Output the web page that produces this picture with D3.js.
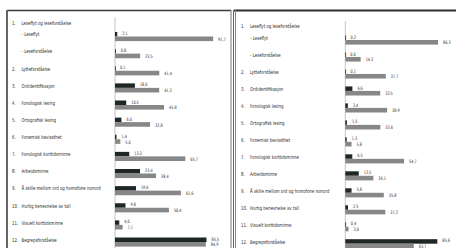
<!DOCTYPE html>
<html>
<head>
<meta charset="utf-8">
<script src="https://cdn.jsdelivr.net/npm/d3@7"></script>
<style>
  html, body { margin: 0; padding: 0; background: #fff; }
  svg { display: block; }
  text { font-family: "Liberation Sans Narrow", "DejaVu Sans Condensed", "Liberation Sans", sans-serif; fill: #2b2b2b; }
</style>
</head>
<body>
<div id="chart"></div>
<script>
// row labels (first entry is the heading of group 1, it has no bars)
const rowNumbers = ['1.', '', '', '2.', '3.', '4.', '5.', '6.', '7.', '8.', '9.', '10.', '11.', '12.'];
const rowLabels = [
  'Leseflyt og leseforståelse',
  '- Leseflyt',
  '- Leseforståelse',
  'Lytteforståelse',
  'Ordidentifikasjon',
  'Fonologisk lesing',
  'Ortografisk lesing',
  'Fonemisk bevissthet',
  'Fonologisk korttidsminne',
  'Arbeidsminne',
  'Å skille mellom ord og homofone nonord',
  'Hurtig benevnelse av tall',
  'Visuelt korttidsminne',
  'Begrepsforståelse'
];

// left chart
const leftDark = [null, 2.1, 0.8, 0.1, 18.6, 10.5, 6.0, 1.4, 13.3, 23.4, 19.6, 9.8, 4.0, 85.5];
const leftGray = [null, 91.7, 23.5, 41.4, 41.3, 45.8, 32.8, 5.0, 65.7, 38.4, 61.6, 50.4, 7.1, 84.9];

// right chart
const rightDark = [null, 0.2, 0.0, 0.1, 6.6, 2.4, 1.5, 1.3, 6.5, 12.5, 5.8, 2.5, 0.4, 85.6];
const rightGray = [null, 86.3, 14.3, 37.7, 32.5, 38.9, 32.6, 5.8, 54.7, 26.1, 35.8, 37.2, 3.0, 63.7];

const width = 456;
const height = 248;

const fmt = d3.formatLocale({ decimal: ',', thousands: ' ', grouping: [3], currency: ['', ''] }).format('.1f');

// the scan uses a narrow face; squeeze text horizontally
const squeeze = 0.82;

const svg = d3.select('#chart')
  .append('svg')
  .attr('width', width)
  .attr('height', height);

/* scanned page frames */
svg.append('rect').attr('x', 0).attr('y', 0).attr('width', width).attr('height', height).attr('fill', '#fff');
svg.append('line').attr('x1', 7).attr('x2', 231).attr('y1', 10.5).attr('y2', 10.5)
  .attr('stroke', '#3a3a3a').attr('stroke-width', 1.5);
svg.append('line').attr('x1', 7).attr('x2', 7).attr('y1', 10).attr('y2', height)
  .attr('stroke', '#666').attr('stroke-width', 2);
svg.append('line').attr('x1', 231).attr('x2', 231).attr('y1', 10).attr('y2', height)
  .attr('stroke', '#777').attr('stroke-width', 1);
svg.append('line').attr('x1', 234).attr('x2', width).attr('y1', 10.5).attr('y2', 10.5)
  .attr('stroke', '#2e2e2e').attr('stroke-width', 2);
svg.append('line').attr('x1', 233.5).attr('x2', 233.5).attr('y1', 10).attr('y2', height)
  .attr('stroke', '#666').attr('stroke-width', 1);
svg.append('line').attr('x1', 235.5).attr('x2', 235.5).attr('y1', 10).attr('y2', height)
  .attr('stroke', '#888').attr('stroke-width', 1);

function drawPanel(opts) {
  const g = svg.append('g');

  // rows after the heading share one step; the heading sits a bit closer
  const y = d3.scalePoint()
    .domain(d3.range(1, rowLabels.length))
    .range([opts.yFirst, opts.yLast]);
  const rowY = i => (i === 0 ? opts.yFirst - 11.5 : y(i));

  const x = d3.scaleLinear().domain([0, 100]).range([opts.x0, opts.x100]);

  // category axis line
  g.append('line')
    .attr('x1', x(0)).attr('x2', x(0))
    .attr('y1', opts.axisTop).attr('y2', height)
    .attr('stroke', '#b5b5b5').attr('stroke-width', 0.8);

  const rows = rowLabels.map((label, i) => ({
    i,
    num: rowNumbers[i],
    label,
    dark: opts.dark[i],
    gray: opts.gray[i]
  }));

  g.append('g').selectAll('text')
    .data(rows.filter(d => d.num))
    .enter()
    .append('text')
    .attr('transform', d => `translate(${opts.numX},${rowY(d.i)}) scale(${squeeze},1)`)
    .attr('dy', '0.35em')
    .attr('font-size', 5.3)
    .text(d => d.num);

  g.append('g').selectAll('text')
    .data(rows)
    .enter()
    .append('text')
    .attr('transform', d => `translate(${opts.labelX},${rowY(d.i)}) scale(${squeeze},1)`)
    .attr('dy', '0.35em')
    .attr('font-size', 5.3)
    .text(d => d.label);

  const barRows = rows.filter(d => d.dark !== null);

  g.append('g').selectAll('rect')
    .data(barRows)
    .enter()
    .append('rect')
    .attr('x', x(0))
    .attr('y', d => rowY(d.i) - 2.5)
    .attr('width', d => Math.max(x(d.dark) - x(0), 0.8))
    .attr('height', 4.5)
    .attr('fill', '#1e2626');

  g.append('g').selectAll('rect')
    .data(barRows)
    .enter()
    .append('rect')
    .attr('x', x(0))
    .attr('y', d => rowY(d.i) + 2)
    .attr('width', d => x(d.gray) - x(0))
    .attr('height', 4.6)
    .attr('fill', '#878787');

  g.append('g').selectAll('text')
    .data(barRows)
    .enter()
    .append('text')
    .attr('transform', d => `translate(${x(d.dark) + 5},${rowY(d.i) - 1}) scale(${squeeze},1)`)
    .attr('dy', '0.35em')
    .attr('font-size', 4.6)
    .text(d => fmt(d.dark));

  g.append('g').selectAll('text')
    .data(barRows)
    .enter()
    .append('text')
    .attr('transform', d => `translate(${x(d.gray) + 5},${rowY(d.i) + 4.8}) scale(${squeeze},1)`)
    .attr('dy', '0.35em')
    .attr('font-size', 4.6)
    .text(d => fmt(d.gray));
}

drawPanel({
  dark: leftDark, gray: leftGray,
  numX: 12, labelX: 21.5,
  yFirst: 34.5, yLast: 240,
  x0: 115, x100: 222,
  axisTop: 17
});

drawPanel({
  dark: rightDark, gray: rightGray,
  numX: 241, labelX: 250,
  yFirst: 38, yLast: 241.7,
  x0: 345.3, x100: 452.8,
  axisTop: 21
});
</script>
</body>
</html>
